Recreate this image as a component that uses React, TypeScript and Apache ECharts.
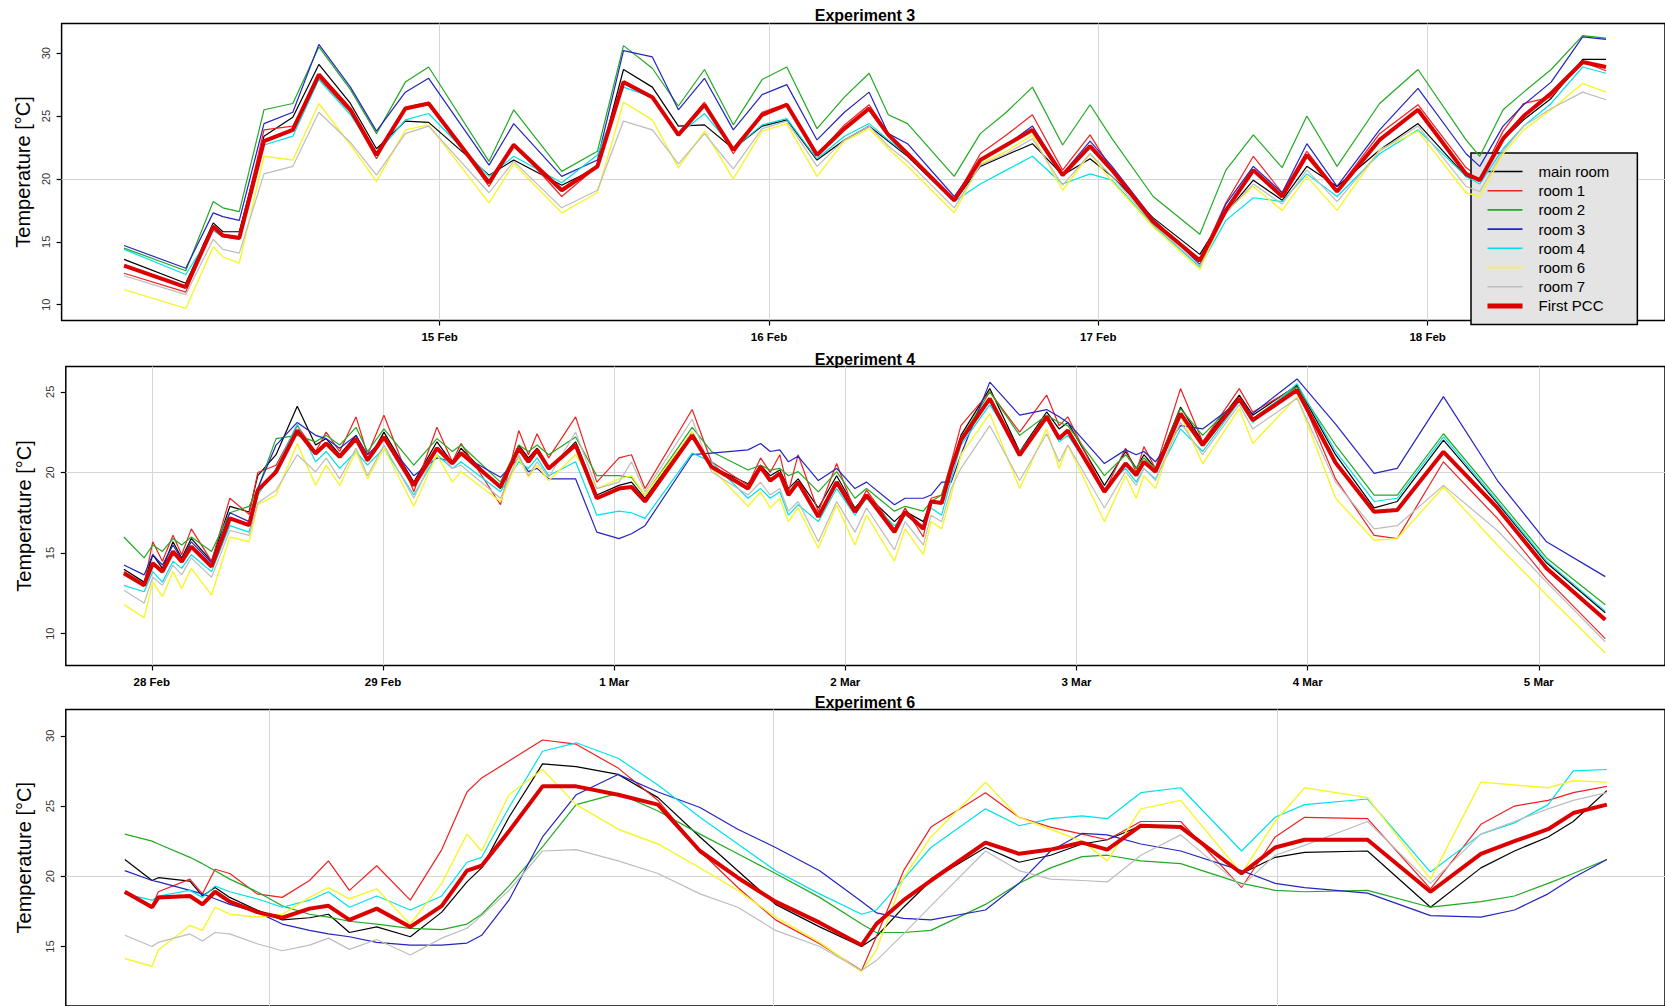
import React, { useEffect, useRef } from 'react';
import * as echarts from 'echarts';

// ---------- names & styling ----------
const seriesNames = ['main room', 'room 1', 'room 2', 'room 3', 'room 4', 'room 6', 'room 7', 'First PCC'];
const seriesColors = ['#000000', '#f02020', '#22aa22', '#2424c0', '#00e0ea', '#f6f62a', '#bdbdbd', '#dd0000'];
const seriesWidths = [1.2, 1.2, 1.2, 1.2, 1.2, 1.4, 1.2, 4];
const panelTitles = ['Experiment 3', 'Experiment 4', 'Experiment 6'];

// ---------- tick definitions (hours from first labelled midnight) ----------
const dayTicks1 = [0, 24, 48, 72];
const dayLabels1 = ['15 Feb', '16 Feb', '17 Feb', '18 Feb'];
const dayTicks2 = [0, 24, 48, 72, 96, 120, 144];
const dayLabels2 = ['28 Feb', '29 Feb', '1 Mar', '2 Mar', '3 Mar', '4 Mar', '5 Mar'];
const dayTicks3 = [0, 24, 48];
const dayLabels3 = ['', '', ''];
const yTicks1 = [10, 15, 20, 25, 30];
const yTicks2 = [10, 15, 20, 25];
const yTicks3 = [15, 20, 25, 30];

// ---------- Experiment 3 ----------
const t1 = [-23, -18.5, -16.5, -15.8, -14.6, -12.8, -10.7, -8.8, -6.5, -4.6, -2.5, -0.8, 3.6, 5.4, 8.9, 11.5, 13.4, 15.5, 17.4, 19.3, 21.4, 23.5, 25.3, 27.5, 29.5, 31.3, 32.7, 34.1, 37.5, 39.4, 41.3, 43.2, 45.4, 47.4, 49, 52, 55.4, 57.3, 59.3, 61.4, 63.2, 65.4, 68.5, 71.3, 74.8, 75.8, 77.5, 79, 81, 83.3, 85];
const p1Main = [13.6, 11.7, 16.5, 15.8, 15.8, 23.4, 24.9, 29.1, 26.0, 22.4, 24.6, 24.5, 20.3, 21.5, 19.5, 20.9, 28.7, 27.3, 24.2, 24.3, 22.4, 24.2, 24.7, 21.5, 23.1, 24.2, 23.0, 21.8, 18.2, 21.0, 21.9, 22.8, 20.3, 21.6, 20.2, 16.9, 14.0, 17.3, 19.9, 18.3, 21.0, 19.4, 22.3, 24.4, 20.2, 19.7, 23.1, 24.7, 26.4, 29.5, 29.5];
const p1Room1 = [12.5, 11.0, 16.3, 15.6, 15.4, 23.9, 24.2, 28.0, 25.3, 21.6, 25.7, 26.1, 19.4, 22.8, 18.6, 21.0, 27.6, 26.4, 23.6, 26.1, 22.0, 25.3, 26.0, 21.9, 24.3, 25.9, 23.6, 21.9, 18.3, 22.0, 23.5, 25.1, 20.7, 23.5, 20.7, 16.6, 13.5, 18.1, 21.8, 18.9, 22.2, 19.1, 23.6, 25.9, 20.9, 20.1, 23.8, 26.0, 26.5, 29.3, 28.6];
const p1Room2 = [14.5, 12.7, 18.2, 17.7, 17.4, 25.5, 26.0, 30.5, 27.1, 23.6, 27.7, 28.9, 21.4, 25.5, 20.6, 22.2, 30.6, 28.8, 25.8, 28.7, 24.3, 27.9, 28.9, 24.0, 26.5, 28.4, 25.1, 24.4, 20.2, 23.6, 25.3, 27.3, 22.7, 25.9, 23.2, 18.6, 15.6, 20.7, 23.5, 20.9, 25.0, 21.0, 26.0, 28.7, 23.1, 21.8, 25.5, 26.9, 28.7, 31.4, 31.2];
const p1Room3 = [14.7, 12.9, 17.3, 17.0, 16.7, 24.4, 25.3, 30.7, 27.3, 23.8, 26.9, 28.0, 21.1, 24.4, 20.2, 21.5, 30.2, 29.7, 25.5, 28.0, 23.9, 26.7, 27.5, 23.1, 25.3, 26.9, 23.6, 22.8, 18.6, 21.5, 22.7, 24.2, 20.4, 23.0, 21.0, 16.8, 13.2, 18.0, 21.0, 18.9, 22.8, 19.4, 23.9, 27.2, 22.0, 21.0, 24.2, 25.9, 27.7, 31.3, 31.1];
const p1Room4 = [14.4, 12.4, 15.9, 15.4, 15.2, 22.7, 23.4, 27.9, 25.1, 22.0, 24.7, 25.2, 20.2, 21.8, 19.7, 21.9, 27.3, 26.5, 23.5, 25.2, 22.4, 24.3, 24.8, 21.6, 23.4, 24.4, 23.1, 21.9, 18.2, 19.6, 20.7, 21.8, 19.6, 20.4, 19.9, 16.3, 13.0, 16.7, 18.5, 18.2, 20.4, 18.6, 22.0, 23.9, 20.2, 19.6, 22.4, 24.2, 26.0, 28.9, 28.4];
const p1Room6 = [11.2, 9.7, 14.6, 13.8, 13.3, 21.8, 21.5, 26.0, 22.7, 19.8, 23.9, 24.3, 18.1, 21.2, 17.3, 18.9, 26.1, 24.7, 20.9, 23.8, 20.0, 23.8, 24.4, 20.2, 23.0, 24.0, 22.4, 21.0, 17.3, 21.2, 22.2, 23.5, 19.1, 22.0, 19.8, 16.2, 12.8, 17.4, 19.4, 17.5, 20.2, 17.5, 22.3, 23.8, 18.9, 18.6, 22.0, 23.9, 25.5, 27.6, 26.9];
const p1Room7 = [12.3, 10.8, 15.2, 14.4, 14.1, 20.4, 21.0, 25.3, 22.9, 20.3, 23.6, 24.2, 18.9, 21.4, 17.7, 19.1, 24.6, 23.9, 21.2, 23.6, 20.8, 24.0, 24.6, 21.0, 23.1, 24.2, 22.6, 21.4, 17.7, 21.1, 22.0, 23.2, 19.5, 22.0, 20.2, 16.4, 13.1, 17.3, 19.6, 18.0, 20.7, 18.2, 22.2, 24.2, 19.4, 19.0, 22.2, 24.2, 25.6, 26.9, 26.3];
const p1Pcc = [13.1, 11.4, 16.2, 15.5, 15.3, 23.0, 23.9, 28.3, 25.5, 21.9, 25.6, 26.0, 19.7, 22.7, 19.1, 21.0, 27.7, 26.5, 23.5, 25.9, 22.3, 25.1, 25.9, 21.9, 24.0, 25.6, 23.5, 22.0, 18.3, 21.5, 22.7, 23.9, 20.3, 22.6, 20.7, 16.6, 13.5, 17.5, 20.7, 18.6, 21.9, 19.0, 23.1, 25.5, 20.4, 19.9, 23.2, 25.0, 26.8, 29.3, 28.9];

// ---------- Experiment 4 ----------
const t2 = [-2.9, -0.8, 0.1, 1.1, 2.2, 3.1, 4.1, 6.2, 8.1, 10.1, 11.0, 12.9, 15.1, 17.0, 18.1, 19.5, 21.2, 22.4, 24.1, 27.2, 29.6, 31.2, 32.1, 36.2, 38.1, 39.1, 40.0, 41.2, 44.0, 46.2, 48.5, 49.8, 51.2, 56.1, 58.1, 61.9, 63.2, 64.2, 65.2, 66.1, 67.1, 69.2, 71.1, 73.0, 74.2, 77.1, 78.2, 80.1, 80.9, 82.0, 83.0, 84.0, 87.0, 90.1, 92.9, 94.2, 95.1, 98.9, 101.1, 102.2, 103.0, 104.2, 106.8, 109.1, 112.9, 114.3, 118.9, 122.9, 126.9, 129.3, 134.1, 139.7, 144.8, 150.9];
const p2Main = [14.0, 13.2, 14.9, 14.05, 15.7, 14.7, 15.9, 14.5, 17.9, 17.55, 19.8, 21.1, 24.1, 21.7, 22.1, 21.1, 22.3, 20.7, 22.5, 19.4, 21.9, 20.6, 21.5, 19.0, 21.7, 20.9, 21.5, 20.2, 21.9, 18.6, 19.2, 19.4, 18.4, 22.5, 20.35, 19.3, 20.45, 19.8, 20.15, 19.0, 19.6, 17.8, 19.8, 17.8, 18.6, 16.95, 17.6, 16.95, 18.2, 18.2, 20.25, 22.3, 25.2, 21.3, 23.75, 22.7, 23.1, 19.2, 21.3, 20.25, 21.1, 20.25, 24.05, 21.9, 24.8, 23.55, 25.4, 21.1, 17.8, 18.2, 22.0, 18.1, 14.4, 11.3];
const p2Room1 = [13.85, 13.1, 15.7, 14.5, 16.1, 14.9, 16.5, 14.5, 18.4, 17.4, 20.0, 20.45, 22.9, 21.3, 22.5, 21.3, 23.45, 21.1, 23.55, 18.8, 22.8, 20.66, 21.8, 18.0, 22.6, 21.1, 22.4, 20.9, 23.45, 19.4, 20.9, 21.1, 19.0, 23.9, 20.66, 19.2, 20.9, 20.0, 21.1, 18.8, 21.1, 17.56, 20.55, 17.56, 18.9, 16.5, 17.8, 16.0, 18.4, 18.6, 20.66, 22.9, 25.0, 22.5, 24.8, 22.9, 23.45, 18.8, 21.5, 20.0, 21.6, 20.25, 25.2, 21.9, 25.2, 23.75, 25.3, 19.6, 16.1, 15.9, 20.66, 17.15, 13.4, 9.7];
const p2Room2 = [16.0, 14.7, 15.5, 15.1, 15.9, 15.5, 16.0, 15.1, 17.5, 17.9, 19.0, 22.1, 22.3, 21.9, 22.3, 21.7, 22.8, 21.3, 22.7, 20.45, 22.1, 21.3, 21.7, 19.4, 21.7, 21.3, 21.7, 21.1, 22.2, 19.8, 19.8, 19.7, 18.6, 22.8, 21.3, 20.15, 20.45, 20.15, 20.25, 19.8, 20.05, 18.8, 20.05, 18.4, 19.0, 17.6, 17.9, 17.6, 18.2, 18.6, 20.45, 22.1, 25.0, 22.3, 23.55, 23.1, 22.9, 19.8, 21.1, 20.25, 20.9, 20.25, 23.96, 22.3, 24.6, 23.35, 25.3, 21.7, 18.6, 18.6, 22.4, 18.4, 14.7, 11.8];
const p2Room3 = [14.26, 13.65, 14.9, 14.26, 15.5, 14.6, 15.7, 14.4, 17.5, 16.95, 19.0, 21.7, 23.1, 22.3, 22.1, 21.5, 22.3, 21.1, 22.1, 19.8, 20.9, 20.66, 21.1, 19.7, 20.9, 20.05, 20.25, 19.6, 19.6, 16.3, 15.9, 16.2, 16.7, 21.1, 21.2, 21.4, 21.8, 21.3, 21.4, 20.66, 21.0, 19.5, 20.25, 19.0, 19.4, 18.0, 18.4, 18.4, 18.6, 19.4, 19.4, 21.1, 25.6, 23.55, 23.9, 23.45, 23.1, 20.55, 21.4, 21.1, 21.3, 20.66, 22.9, 22.7, 24.4, 23.65, 25.8, 23.0, 19.94, 20.25, 24.7, 19.5, 15.7, 13.54];
const p2Room4 = [13.0, 12.6, 13.85, 13.2, 14.5, 14.05, 14.9, 13.85, 16.7, 16.3, 18.6, 20.25, 23.0, 20.66, 21.3, 20.25, 21.3, 20.45, 21.5, 18.6, 21.1, 20.25, 20.66, 18.8, 20.66, 20.25, 20.9, 19.8, 20.66, 17.35, 17.6, 17.5, 17.15, 21.2, 20.66, 18.4, 19.0, 18.4, 18.8, 17.35, 18.0, 16.95, 19.0, 17.35, 18.4, 16.7, 17.35, 16.7, 17.8, 17.35, 19.6, 21.7, 24.2, 21.3, 23.35, 21.9, 22.3, 19.0, 20.25, 19.4, 20.25, 19.6, 22.7, 21.3, 24.4, 23.1, 25.5, 21.3, 18.2, 18.4, 22.2, 18.2, 14.5, 11.4];
const p2Room6 = [11.8, 11.0, 13.2, 12.3, 13.85, 12.8, 14.05, 12.4, 16.0, 15.7, 18.0, 18.6, 21.8, 19.2, 20.45, 19.2, 21.3, 19.6, 21.5, 17.9, 21.1, 19.4, 20.05, 18.2, 20.9, 19.7, 20.45, 19.5, 21.1, 19.0, 19.6, 19.8, 18.6, 22.5, 20.25, 17.9, 18.8, 17.8, 18.4, 16.95, 17.8, 15.3, 18.0, 15.5, 17.35, 14.5, 16.5, 14.9, 16.95, 16.5, 18.6, 21.1, 23.65, 19.0, 22.7, 20.25, 21.7, 16.95, 19.8, 18.4, 19.8, 19.0, 23.55, 20.55, 23.96, 21.8, 24.7, 18.4, 15.8, 15.9, 19.1, 15.5, 12.4, 8.8];
const p2Room7 = [12.7, 11.9, 13.5, 13.0, 14.26, 13.65, 14.7, 13.5, 16.4, 16.1, 18.1, 18.9, 21.1, 20.04, 20.9, 19.6, 21.5, 19.8, 21.7, 18.4, 21.5, 20.25, 20.45, 18.4, 21.1, 19.8, 20.66, 19.7, 22.5, 19.0, 19.4, 20.66, 18.8, 23.3, 20.05, 18.6, 19.4, 18.6, 19.0, 17.6, 18.2, 15.7, 18.2, 16.3, 17.8, 15.2, 16.95, 15.5, 17.35, 16.95, 19.0, 20.25, 22.9, 19.5, 22.4, 20.66, 21.7, 17.8, 20.05, 19.2, 20.25, 19.5, 23.1, 21.1, 24.2, 22.7, 24.6, 19.4, 16.5, 16.7, 19.2, 16.4, 13.2, 9.5];
const p2Pcc = [13.75, 13.0, 14.37, 13.85, 15.1, 14.47, 15.4, 14.16, 17.15, 16.74, 18.9, 20.04, 22.6, 21.18, 21.8, 20.97, 22.1, 20.76, 22.2, 19.2, 21.5, 20.56, 21.2, 19.1, 21.5, 20.66, 21.4, 20.25, 21.7, 18.4, 19.0, 19.1, 18.2, 22.3, 20.35, 19.0, 20.35, 19.5, 19.94, 18.6, 19.4, 17.25, 19.4, 17.56, 18.6, 16.3, 17.56, 16.5, 18.2, 18.1, 20.25, 22.0, 24.58, 21.07, 23.45, 22.1, 22.6, 18.8, 20.56, 19.83, 20.66, 20.04, 23.65, 21.7, 24.58, 23.24, 25.1, 20.6, 17.56, 17.67, 21.28, 17.8, 14.06, 10.86];

// ---------- Experiment 6 ----------
const t3 = [-6.9, -5.6, -5.3, -3.8, -3.2, -2.6, -1.9, -0.6, 0.6, 1.9, 2.8, 3.8, 5.1, 6.7, 8.2, 9.4, 10.1, 11.4, 13.0, 14.6, 16.6, 18.5, 20.5, 22.3, 24.1, 26.2, 28.2, 28.9, 30.2, 31.5, 34.1, 35.7, 37.2, 38.7, 39.9, 41.5, 43.4, 46.3, 47.9, 49.3, 52.3, 55.3, 57.7, 59.3, 60.9, 62.1, 63.7];
const p3Main = [21.2, 19.7, 19.9, 19.65, 18.6, 19.2, 18.5, 17.6, 16.9, 17.05, 17.3, 16.0, 16.4, 15.7, 17.45, 19.6, 20.6, 24.2, 28.0, 27.8, 27.25, 25.6, 22.8, 20.4, 18.0, 16.4, 15.0, 15.7, 17.8, 19.7, 22.05, 21.0, 21.5, 22.3, 22.6, 23.6, 23.6, 20.2, 21.35, 21.7, 21.8, 17.8, 20.6, 21.8, 22.8, 23.9, 26.1];
const p3Room1 = [18.9, 17.9, 18.9, 19.8, 18.75, 20.5, 20.2, 18.75, 18.5, 19.7, 21.1, 19.0, 20.75, 18.3, 21.9, 26.0, 27.0, 28.2, 29.7, 29.4, 27.7, 25.4, 21.8, 19.2, 16.9, 15.2, 13.3, 15.7, 20.4, 23.5, 25.95, 24.2, 23.5, 23.0, 22.6, 23.9, 23.9, 19.2, 22.8, 24.2, 24.1, 19.1, 23.7, 25.0, 25.4, 25.95, 26.4];
const p3Room2 = [23.0, 22.5, 22.3, 21.35, 20.9, 20.4, 19.8, 18.9, 17.9, 17.3, 17.1, 16.8, 16.6, 16.3, 16.2, 16.6, 17.3, 19.3, 22.1, 25.1, 25.9, 24.65, 23.0, 21.6, 20.2, 18.5, 16.6, 16.0, 16.0, 16.15, 18.0, 19.5, 20.6, 21.4, 21.5, 21.1, 20.9, 19.5, 19.0, 18.9, 19.0, 17.8, 18.2, 18.6, 19.5, 20.2, 21.2];
const p3Room3 = [20.4, 19.7, 19.6, 19.0, 18.75, 18.4, 18.0, 17.45, 16.6, 16.15, 15.9, 15.7, 15.3, 15.1, 15.1, 15.25, 15.8, 18.3, 22.8, 25.8, 27.25, 26.0, 24.9, 23.35, 22.05, 20.4, 18.2, 17.4, 17.0, 16.9, 17.6, 19.5, 21.8, 23.05, 22.95, 22.3, 21.8, 20.4, 19.5, 19.2, 18.8, 17.2, 17.1, 17.6, 18.75, 19.9, 21.2];
const p3Room4 = [18.75, 18.3, 18.6, 19.0, 18.5, 19.3, 18.9, 18.4, 17.8, 18.3, 18.9, 17.8, 18.6, 17.6, 18.6, 21.0, 21.35, 24.9, 28.9, 29.5, 28.4, 26.5, 24.2, 22.3, 20.4, 18.75, 17.3, 17.6, 19.8, 22.05, 24.8, 23.6, 24.1, 24.3, 24.1, 25.95, 26.3, 21.8, 24.2, 25.1, 25.5, 20.3, 23.0, 23.8, 25.1, 27.5, 27.6];
const p3Room6 = [14.15, 13.6, 14.75, 16.5, 16.15, 17.8, 17.3, 17.1, 17.3, 18.5, 19.2, 18.4, 19.1, 16.6, 19.5, 23.0, 21.8, 25.8, 27.6, 25.1, 23.35, 22.3, 20.6, 19.0, 17.1, 15.3, 13.2, 14.75, 19.9, 22.8, 26.7, 24.2, 23.35, 22.5, 21.1, 24.8, 25.4, 20.2, 23.9, 26.3, 25.6, 19.8, 26.7, 26.5, 26.3, 26.8, 26.7];
const p3Room7 = [15.8, 15.0, 15.3, 15.9, 15.4, 16.0, 15.9, 15.2, 14.7, 15.1, 15.6, 14.8, 15.5, 14.4, 15.6, 16.3, 17.2, 19.0, 21.8, 21.9, 21.1, 20.2, 18.75, 17.8, 16.15, 15.0, 13.3, 14.0, 15.9, 17.9, 21.8, 20.4, 19.8, 19.7, 19.6, 21.5, 22.95, 19.3, 21.5, 22.2, 23.9, 19.5, 23.0, 23.9, 24.8, 25.4, 25.95];
const p3Pcc = [18.9, 17.8, 18.5, 18.6, 18.0, 18.9, 18.2, 17.45, 17.05, 17.7, 17.9, 16.9, 17.7, 16.4, 17.9, 20.4, 20.75, 23.2, 26.4, 26.4, 25.8, 25.1, 21.8, 19.9, 18.2, 16.7, 15.1, 16.6, 18.3, 19.7, 22.4, 21.6, 21.9, 22.4, 21.9, 23.6, 23.5, 20.2, 22.05, 22.6, 22.6, 18.9, 21.6, 22.5, 23.35, 24.5, 25.1];

const FONT = "'Liberation Sans', Arial, Helvetica, sans-serif";

const panels = [
  {
    t: t1, vals: [p1Main, p1Room1, p1Room2, p1Room3, p1Room4, p1Room6, p1Room7, p1Pcc],
    ticks: dayTicks1, labels: dayLabels1, yTicks: yTicks1, showX: true,
    grid: { left: 61.6, top: 23.5, width: 1608, height: 297 },
    x: [-27.55, 89.3], y: [8.74, 32.36], nameGap: 28, titleTop: 7,
  },
  {
    t: t2, vals: [p2Main, p2Room1, p2Room2, p2Room3, p2Room4, p2Room6, p2Room7, p2Pcc],
    ticks: dayTicks2, labels: dayLabels2, yTicks: yTicks2, showX: true,
    grid: { left: 65.8, top: 366.5, width: 1602, height: 299 },
    x: [-8.93, 157.1], y: [8.03, 26.57], nameGap: 32, titleTop: 351,
  },
  {
    t: t3, vals: [p3Main, p3Room1, p3Room2, p3Room3, p3Room4, p3Room6, p3Room7, p3Pcc],
    ticks: dayTicks3, labels: dayLabels3, yTicks: yTicks3, showX: false,
    grid: { left: 65.8, top: 709.5, width: 1602, height: 298 },
    x: [-9.71, 66.47], y: [10.77, 31.87], nameGap: 32, titleTop: 694,
  },
];

function buildOption() {
  const grids: any[] = [];
  const xAxes: any[] = [];
  const yAxes: any[] = [];
  const titles: any[] = [];
  const series: any[] = [];

  panels.forEach((p, pi) => {
    grids.push({
      ...p.grid,
      show: true,
      borderColor: '#000',
      borderWidth: 1.5,
      backgroundColor: 'transparent',
      containLabel: false,
    });
    titles.push({
      text: panelTitles[pi],
      left: 865,
      top: p.titleTop,
      textAlign: 'center',
      padding: 0,
      textStyle: { fontSize: 16, fontWeight: 'bold', color: '#000', fontFamily: FONT },
    });
    xAxes.push({
      type: 'value',
      gridIndex: pi,
      position: 'bottom',
      min: p.x[0],
      max: p.x[1],
      axisLine: { show: false, onZero: false },
      axisTick: { show: true, length: 5, customValues: p.ticks, lineStyle: { color: '#000', width: 1.2 } },
      axisLabel: {
        show: p.showX,
        customValues: p.ticks,
        formatter: (v: number) => {
          const i = p.ticks.indexOf(v);
          return i >= 0 ? p.labels[i] : '';
        },
        fontSize: 11.5,
        fontWeight: 'bold',
        color: '#000',
        margin: 10,
        fontFamily: FONT,
      },
      splitLine: { show: false },
    });
    yAxes.push({
      type: 'value',
      gridIndex: pi,
      position: 'left',
      min: p.y[0],
      max: p.y[1],
      name: 'Temperature [°C]',
      nameLocation: 'middle',
      nameGap: p.nameGap,
      nameTextStyle: { fontSize: 20, color: '#000', fontFamily: FONT },
      axisLine: { show: false, onZero: false },
      axisTick: { show: true, length: 5, customValues: p.yTicks, lineStyle: { color: '#000', width: 1.2 } },
      axisLabel: {
        customValues: p.yTicks,
        rotate: 90,
        fontSize: 11,
        color: '#333',
        margin: 10,
        fontFamily: FONT,
      },
      splitLine: { show: false },
    });

    p.vals.forEach((vals, si) => {
      const s: any = {
        type: 'line',
        name: seriesNames[si],
        xAxisIndex: pi,
        yAxisIndex: pi,
        data: p.t.map((tt, k) => [tt, vals[k]]),
        symbol: 'none',
        showSymbol: false,
        color: seriesColors[si],
        lineStyle: { color: seriesColors[si], width: seriesWidths[si] },
        emphasis: { disabled: true },
        silent: true,
        z: 2 + si,
      };
      if (si === 0) {
        s.markLine = {
          silent: true,
          symbol: ['none', 'none'],
          z: 1,
          animation: false,
          label: { show: false },
          emphasis: { disabled: true },
          lineStyle: { color: '#d6d6d6', width: 1, type: 'solid' },
          data: [...p.ticks.map((d) => ({ xAxis: d })), { yAxis: 20 }],
        };
      }
      series.push(s);
    });
  });

  return {
    animation: false,
    backgroundColor: '#ffffff',
    title: titles,
    grid: grids,
    xAxis: xAxes,
    yAxis: yAxes,
    legend: {
      data: seriesNames.map((n, i) => ({ name: n, lineStyle: { width: i === 7 ? 5 : 1.6 } })),
      orient: 'vertical',
      left: 1471,
      top: 153,
      itemWidth: 35,
      itemHeight: 14,
      itemGap: 4.2,
      padding: [11, 28, 11, 14],
      backgroundColor: '#e4e4e4',
      borderColor: '#000',
      borderWidth: 1.5,
      borderRadius: 0,
      selectedMode: false,
      itemStyle: { opacity: 0 },
      textStyle: { fontSize: 15, color: '#000', fontFamily: FONT, padding: [0, 0, 0, 11] },
    },
    series,
  };
}

export default function App() {
  const ref = useRef<HTMLDivElement>(null);
  useEffect(() => {
    if (!ref.current) return;
    const chart = echarts.init(ref.current, undefined, { renderer: 'svg' });
    chart.setOption(buildOption() as any);
    return () => chart.dispose();
  }, []);
  return (
    <div
      ref={ref}
      style={{ position: 'fixed', left: 0, top: 0, width: '1665px', height: '1006px', background: '#fff' }}
    />
  );
}
